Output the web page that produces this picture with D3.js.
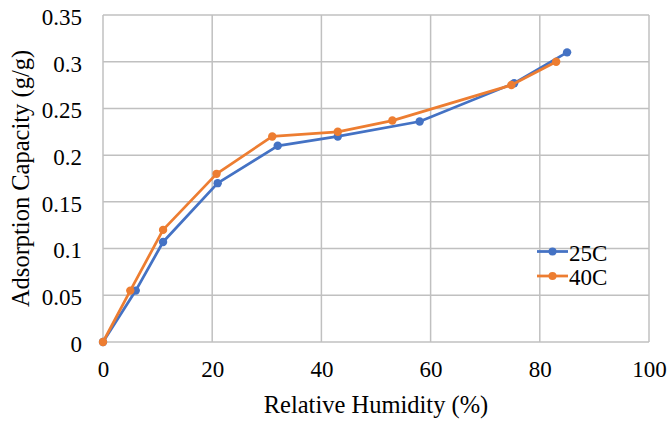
<!DOCTYPE html>
<html><head><meta charset="utf-8">
<script src="https://cdn.jsdelivr.net/npm/d3@7"></script>
<style>html,body{margin:0;padding:0;background:#fff;}svg{display:block;}
svg text{font-family:"Liberation Serif","Times New Roman",Times,"DejaVu Serif","Noto Serif",serif !important; fill:#000;}</style>
</head><body>
<svg id="c" width="670" height="423"></svg>
<script>
const rh25 = [0, 6, 11, 21, 32, 43, 58, 75.3, 85];
const cap25 = [0, 0.055, 0.107, 0.170, 0.210, 0.220, 0.236, 0.277, 0.310];
const rh40 = [0, 5, 11, 20.8, 31, 43, 53, 74.8, 83];
const cap40 = [0, 0.055, 0.120, 0.180, 0.220, 0.225, 0.237, 0.275, 0.300];
const xTicks = [0, 20, 40, 60, 80, 100];
const yTicks = [0, 0.05, 0.1, 0.15, 0.2, 0.25, 0.3, 0.35];
const seriesNames = ["25C", "40C"];
const colors = ["#4472C4", "#ED7D31"];

const svg = d3.select("#c");
const m = {l:103, r:649, t:15, b:342};
const x = d3.scaleLinear().domain([0,100]).range([m.l, m.r]);
const y = d3.scaleLinear().domain([0,0.35]).range([m.b, m.t]);

const grid = svg.append("g");
grid.selectAll("line.h").data(yTicks).join("line")
  .attr("x1", m.l).attr("x2", m.r).attr("y1", d=>y(d)).attr("y2", d=>y(d))
  .attr("stroke", "#c0c0c0").attr("stroke-width", 1.5);
grid.selectAll("line.v").data(xTicks).join("line")
  .attr("y1", m.t).attr("y2", m.b).attr("x1", d=>x(d)).attr("x2", d=>x(d))
  .attr("stroke", "#c0c0c0").attr("stroke-width", 1.5);

const yAxis = d3.axisLeft(y).tickValues(yTicks).tickSize(0).tickPadding(21)
  .tickFormat(d => String(+d.toFixed(2)));
svg.append("g").attr("transform", `translate(${m.l},2)`).call(yAxis)
  .call(g => g.select(".domain").remove())
  .call(g => g.attr("font-family", null))
  .selectAll("text").style("font-size", "23px");

const xAxis = d3.axisBottom(x).tickValues(xTicks).tickSize(0).tickPadding(19);
svg.append("g").attr("transform", `translate(0,${m.b})`).call(xAxis)
  .call(g => g.select(".domain").remove())
  .call(g => g.attr("font-family", null))
  .selectAll("text").style("font-size", "23px");

const series = [
  {name: seriesNames[0], xs: rh25, ys: cap25, color: colors[0]},
  {name: seriesNames[1], xs: rh40, ys: cap40, color: colors[1]}
];
const line = d3.line().x(d=>x(d[0])).y(d=>y(d[1]));
series.forEach(s => {
  const pts = s.xs.map((v,i)=>[v, s.ys[i]]);
  svg.append("path").datum(pts).attr("d", line).attr("fill","none")
    .attr("stroke", s.color).attr("stroke-width", 2.75).attr("stroke-linejoin","round");
  svg.append("g").selectAll("circle").data(pts).join("circle")
    .attr("cx", d=>x(d[0])).attr("cy", d=>y(d[1])).attr("r", 4.2).attr("fill", s.color);
});

// legend
const leg = svg.append("g");
series.forEach((s,i) => {
  const ly = 251.5 + i*24.5;
  leg.append("line").attr("x1", 537).attr("x2", 568).attr("y1", ly).attr("y2", ly)
    .attr("stroke", s.color).attr("stroke-width", 2.75);
  leg.append("circle").attr("cx", 552.5).attr("cy", ly).attr("r", 4).attr("fill", s.color);
  leg.append("text").attr("x", 569).attr("y", ly+9).text(s.name).style("font-size", "23px");
});

svg.append("text").attr("x", 376).attr("y", 413).attr("text-anchor","middle")
  .style("font-size", "24.5px").text("Relative Humidity (%)");
svg.append("text").attr("transform", `translate(29,${(m.t+m.b)/2}) rotate(-90)`)
  .attr("text-anchor","middle").style("font-size", "24.5px")
  .text("Adsorption Capacity (g/g)");
</script>
</body></html>
